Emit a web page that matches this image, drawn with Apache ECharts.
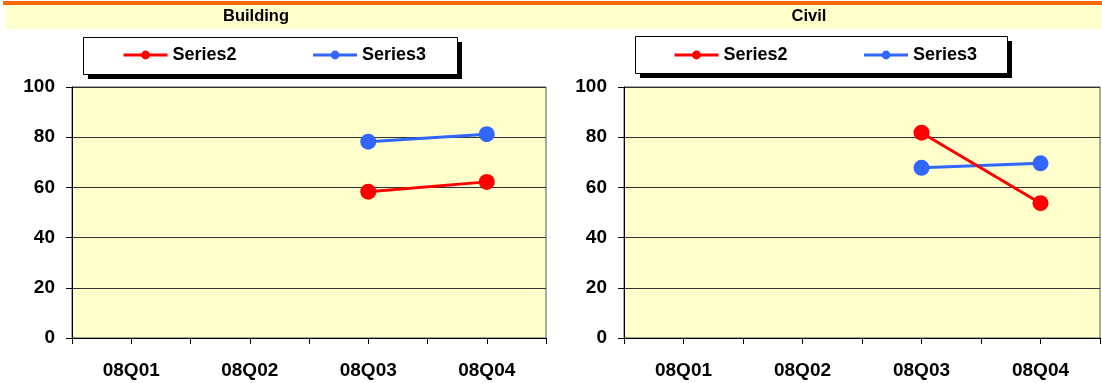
<!DOCTYPE html>
<html>
<head>
<meta charset="utf-8">
<script src="https://cdn.jsdelivr.net/npm/echarts@6/dist/echarts.min.js"></script>
<style>
html,body{margin:0;padding:0;background:#fff;}
#c{width:1102px;height:383px;}
</style>
</head>
<body>
<div id="c"></div>
<script>
// ---- data ----
const categories = ['08Q01', '08Q02', '08Q03', '08Q04'];
const buildingSeries2 = [null, null, 58.3, 62.2];
const buildingSeries3 = [null, null, 78.2, 81.2];
const civilSeries2 = [null, null, 81.8, 53.7];
const civilSeries3 = [null, null, 67.8, 69.6];
const panelTitles = ['Building', 'Civil'];
const seriesNames = ['Series2', 'Series3'];
const yMin = 0, yMax = 100, yInterval = 20;

const FONT = 'Liberation Sans, Arial, sans-serif';
const RED = '#FF0000', BLUE = '#3366FF';
const PLOT_BG = '#FFFFCC';

const chart = echarts.init(document.getElementById('c'), null, {renderer: 'canvas'});

const grids = [
  {left: 72, right: 556, top: 87, bottom: 45},
  {left: 624, right: 2, top: 87, bottom: 45}
];

const gridOpts = [], xAxes = [], yAxes = [];
grids.forEach((g, i) => {
  gridOpts.push(Object.assign({show: true, backgroundColor: PLOT_BG, borderColor: '#555', borderWidth: 1}, g));
  gridOpts.push(Object.assign({show: false}, g));
  // main axes
  xAxes.push({
    type: 'category', gridIndex: 2 * i, data: categories, boundaryGap: true,
    axisLine: {show: true, lineStyle: {color: '#000', width: 1}},
    axisTick: {show: true, length: 6, interval: 0, lineStyle: {color: '#000'}},
    axisLabel: {show: true, interval: 0, margin: 23, color: '#000', fontSize: 19, fontWeight: 'bold', fontFamily: FONT},
    splitLine: {show: false}
  });
  yAxes.push({
    type: 'value', gridIndex: 2 * i, min: yMin, max: yMax, interval: yInterval,
    axisLine: {show: true, lineStyle: {color: '#000', width: 1}},
    axisTick: {show: true, length: 6, lineStyle: {color: '#000'}},
    axisLabel: {show: true, margin: 17, color: '#000', fontSize: 19, fontWeight: 'bold', fontFamily: FONT},
    splitLine: {show: true, lineStyle: {color: '#333', width: 1}}
  });
  // overlay axes for ticks at category centres
  xAxes.push({
    type: 'category', gridIndex: 2 * i + 1, data: categories, boundaryGap: true,
    axisLine: {show: false},
    axisTick: {show: true, length: 6, alignWithLabel: true, interval: 0, lineStyle: {color: '#000'}},
    axisLabel: {show: false}, splitLine: {show: false}
  });
  yAxes.push({
    type: 'value', gridIndex: 2 * i + 1, min: yMin, max: yMax, interval: yInterval, show: false
  });
});

function lineSeries(name, data, color, axisIdx, z) {
  return {
    name: name, type: 'line', data: data, xAxisIndex: axisIdx, yAxisIndex: axisIdx,
    symbol: 'circle', symbolSize: 16, connectNulls: false, z: z,
    itemStyle: {color: color},
    lineStyle: {color: color, width: 3},
    emphasis: {disabled: true}, animation: false
  };
}

const series = [
  lineSeries(seriesNames[1], buildingSeries3, BLUE, 0, 2),
  lineSeries(seriesNames[0], buildingSeries2, RED, 0, 3),
  lineSeries(seriesNames[1], civilSeries3, BLUE, 2, 2),
  lineSeries(seriesNames[0], civilSeries2, RED, 2, 3)
];

function legendAt(left) {
  return {
    show: true, left: left, top: 46, orient: 'horizontal', padding: 0,
    data: seriesNames, itemWidth: 44, itemHeight: 11, itemGap: 75,
    selectedMode: false,
    textStyle: {color: '#000', fontSize: 18, fontWeight: 'bold', fontFamily: FONT},
    itemStyle: {borderWidth: 0},
    lineStyle: {width: 3}
  };
}

const graphic = [
  {type: 'rect', shape: {x: 3, y: 1, width: 1099, height: 4}, style: {fill: '#FF6600'}, silent: true},
  {type: 'rect', shape: {x: 5, y: 5, width: 1097, height: 24}, style: {fill: '#FFFFCC'}, silent: true},
  {type: 'text', x: 256, y: 16, style: {text: panelTitles[0], fill: '#000', font: 'bold 16.5px ' + FONT, align: 'center', verticalAlign: 'middle'}, silent: true},
  {type: 'text', x: 809, y: 16, style: {text: panelTitles[1], fill: '#000', font: 'bold 16.5px ' + FONT, align: 'center', verticalAlign: 'middle'}, silent: true},
  {type: 'rect', shape: {x: 88, y: 42, width: 374, height: 37}, style: {fill: '#000'}, silent: true, z: -1},
  {type: 'rect', shape: {x: 83.5, y: 37.5, width: 374, height: 37}, style: {fill: '#fff', stroke: '#000', lineWidth: 1}, silent: true, z: -1},
  {type: 'rect', shape: {x: 640, y: 41, width: 372, height: 37}, style: {fill: '#000'}, silent: true, z: -1},
  {type: 'rect', shape: {x: 635.5, y: 36.5, width: 372, height: 37}, style: {fill: '#fff', stroke: '#000', lineWidth: 1}, silent: true, z: -1}
];

chart.setOption({
  animation: false,
  backgroundColor: '#fff',
  textStyle: {fontFamily: FONT},
  grid: gridOpts,
  xAxis: xAxes,
  yAxis: yAxes,
  legend: [legendAt(122), legendAt(673)],
  series: series,
  graphic: graphic
});
</script>
</body>
</html>
